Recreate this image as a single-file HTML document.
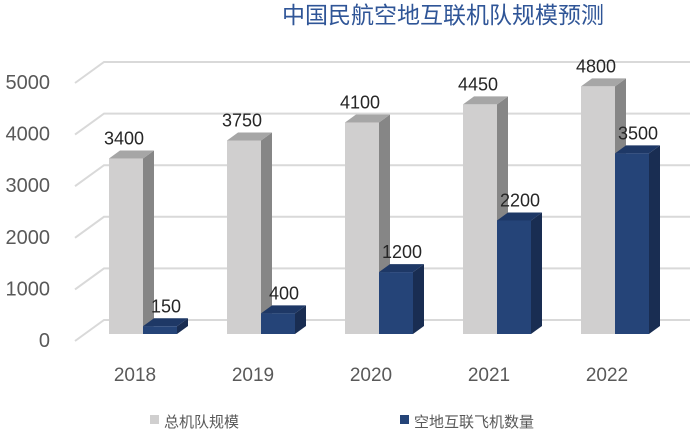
<!DOCTYPE html>
<html><head><meta charset="utf-8"><style>
body{margin:0;background:#fff;font-family:"Liberation Sans","Noto Sans CJK SC",sans-serif}
</style></head><body>
<svg id="c" width="693" height="433" xmlns="http://www.w3.org/2000/svg" style="font-family:'Liberation Sans','Noto Sans CJK SC',sans-serif">
<text x="443" y="23" text-anchor="middle" font-size="23" fill="#2f5597">中国民航空地互联机队规模预测</text>
<g id="grid"></g><g id="bars"></g>
<g>
<rect x="150" y="415" width="9" height="9" fill="#d0cfcf"/>
<text x="164" y="427" font-size="15" fill="#595959">总机队规模</text>
<rect x="400" y="415" width="9" height="9" fill="#254478"/>
<text x="414" y="427" font-size="15" fill="#595959">空地互联飞机数量</text>
</g>
</svg>
<script>
const categories=["2018","2019","2020","2021","2022"];
const totalFleet=[3400,3750,4100,4450,4800];
const connectedFleet=[150,400,1200,2200,3500];
const yTicks=[0,1000,2000,3000,4000,5000];
const NS="http://www.w3.org/2000/svg";
const grid=document.getElementById('grid'),bars=document.getElementById('bars');
function yBack(v){return 320-v*0.0516;}
function yFront(v){return 341-v*0.0516;}
function yBar(v){return 334-v*0.0516;}
function xCat(i){return 109+i*118;}
function mk(tag,attrs,parent){const e=document.createElementNS(NS,tag);for(const k in attrs)e.setAttribute(k,attrs[k]);parent.appendChild(e);return e;}
yTicks.forEach(v=>{
 const l=mk('polyline',{points:`75,${yFront(v)} 104,${yBack(v)} 690,${yBack(v)}`,fill:'none',stroke:'#d9d9d9','stroke-width':2},grid);
 
 
 const t=mk('text',{x:50,y:yFront(v)+6,'text-anchor':'end','font-size':20,fill:'#595959'},grid);
 t.textContent=v;
 
 
});
function bar(x,v,cols,name,labelDx){
 const w=34,dx=11,dy=8,top=yBar(v),bot=334;
 const g=mk('g',{},bars);
 
 
 mk('polygon',{points:`${x+w},${top} ${x+w+dx},${top-dy} ${x+w+dx},${bot-dy} ${x+w},${bot}`,fill:cols[1]},g);
 mk('polygon',{points:`${x},${top} ${x+dx},${top-dy} ${x+w+dx},${top-dy} ${x+w},${top}`,fill:cols[2]},g);
 mk('rect',{x:x,y:top,width:w,height:bot-top,fill:cols[0]},g);
 const t=mk('text',{x:x+w/2+labelDx,y:top-14,'text-anchor':'middle','font-size':18,fill:'#262626'},bars);
 t.textContent=v;
 
 
}
categories.forEach((c,i)=>{
 const x=xCat(i);
 bar(x,totalFleet[i],['#d0cfcf','#868686','#a6a6a6'],'bar-total-'+c,-2);
 bar(x+34,connectedFleet[i],['#254478','#192d52','#1e3866'],'bar-connected-'+c,6);
 const t=mk('text',{x:x+26,y:381,'text-anchor':'middle','font-size':19,fill:'#595959'},grid);
 t.textContent=c;
 
 
});
</script>
</body></html>
